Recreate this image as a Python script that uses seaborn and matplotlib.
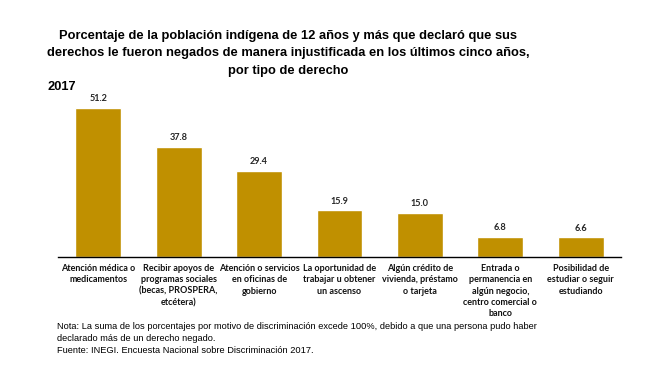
import matplotlib
matplotlib.use("Agg")
import pandas as pd
import seaborn as sns
import matplotlib.pyplot as plt

# Data
categorias = [
    "Atención médica o\nmedicamentos",
    "Recibir apoyos de\nprogramas sociales\n(becas, PROSPERA,\netcétera)",
    "Atención o servicios\nen oficinas de\ngobierno",
    "La oportunidad de\ntrabajar u obtener\nun ascenso",
    "Algún crédito de\nvivienda, préstamo\no tarjeta",
    "Entrada o\npermanencia en\nalgún negocio,\ncentro comercial o\nbanco",
    "Posibilidad de\nestudiar o seguir\nestudiando",
]
porcentajes = [51.2, 37.8, 29.4, 15.9, 15.0, 6.8, 6.6]

df = pd.DataFrame({"categoria": categorias, "porcentaje": porcentajes})

sns.set_style("white")
plt.rcParams['font.family'] = ['Liberation Sans', 'DejaVu Sans']

fig = plt.figure(figsize=(6.6, 3.77), dpi=100)
ax = fig.add_axes([58 / 660, 1 - 256.7 / 377, 563 / 660, 166 / 377])

sns.barplot(data=df, x="categoria", y="porcentaje", color="#C09000",
            saturation=1, width=0.57, ax=ax)

ax.set_ylim(0, 57.0)
ax.set_xlim(-0.5, len(categorias) - 0.5)
ax.set_yticks([])
ax.set_xlabel("")
ax.set_ylabel("")
for s in ["top", "left", "right"]:
    ax.spines[s].set_visible(False)
ax.spines["bottom"].set_color("black")
ax.spines["bottom"].set_linewidth(1.0)
ax.tick_params(axis="x", length=0, pad=5)
ax.set_xticks(range(len(categorias)))
ax.set_xticklabels(categorias, fontsize=6.5, fontweight="bold",
                   family=["Lato", "DejaVu Sans"], color="#111111",
                   linespacing=1.35, va="top")

for i, v in enumerate(porcentajes):
    ax.text(i, v + 1.6, f"{v:.1f}", ha="center", va="bottom", fontsize=6.6,
            fontweight="bold", family=["Lato", "DejaVu Sans"], color="#262626")

# Titles and notes
fig.text(288 / 660, 1 - 30 / 377,
         "Porcentaje de la población indígena de 12 años y más que declaró que sus\n"
         "derechos le fueron negados de manera injustificada en los últimos cinco años,\n"
         "por tipo de derecho",
         ha="center", va="top", fontsize=9.3, fontweight="bold", linespacing=1.6,
         color="black")
fig.text(47 / 660, 1 - 87 / 377, "2017", ha="left", va="center",
         fontsize=9.3, fontweight="bold", color="black")
fig.text(57 / 660, 1 - 322 / 377,
         "Nota: La suma de los porcentajes por motivo de discriminación excede 100%, debido a que una persona pudo haber\n"
         "declarado más de un derecho negado.\n"
         "Fuente: INEGI. Encuesta Nacional sobre Discriminación 2017.",
         ha="left", va="top", fontsize=6.7, linespacing=1.4, color="black")

fig.savefig("out.png", dpi=100)
